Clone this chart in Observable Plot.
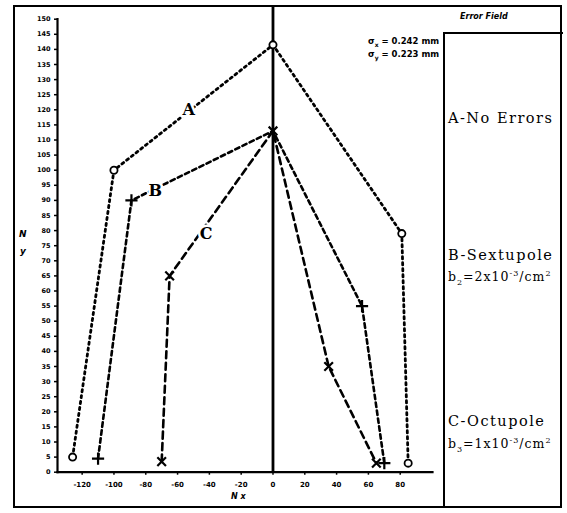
<!DOCTYPE html>
<html>
<head>
<meta charset="utf-8">
<script src="https://cdn.jsdelivr.net/npm/d3@7"></script>
<script src="https://cdn.jsdelivr.net/npm/@observablehq/plot@0.6"></script>
<style>
  html, body { margin: 0; padding: 0; background: #fff; }
  #wrap { position: relative; width: 567px; height: 513px; overflow: hidden; background: #fff; }
  #wrap svg { position: absolute; left: 0; top: 0; }
  .border { position: absolute; left: 13px; top: 5px; width: 545px; height: 499px; border: 2px solid #000; pointer-events: none; }
  .panel { position: absolute; left: 443px; top: 32px; width: 118px; height: 474px; border-left: 2.5px solid #000; border-top: 2px solid #000; }
  .ptxt { position: absolute; left: 448px; font-family: "DejaVu Serif", serif; color: #000; white-space: nowrap; }
  .big { font-size: 14.5px; letter-spacing: 1.5px; }
  .small { font-size: 12.5px; letter-spacing: 1px; }
  .ann { position: absolute; font-family: "DejaVu Sans", sans-serif; font-weight: bold; color: #000; white-space: nowrap; }
</style>
</head>
<body>
<div id="wrap">
  <div class="border"></div>
  <div class="panel"></div>
</div>
<script>
// ---- data ----
const aX = [-126, -100, 0, 81, 85];
const aY = [5, 100, 141.5, 79, 3];
const bX = [-110, -89, 0, 56, 70];
const bY = [4.5, 90, 113, 55, 3];
const cX = [-70, -65, 0, 35, 65];
const cY = [3.5, 65, 113, 35, 3];
const curveLabels = ["A", "B", "C"];
const curveLabelX = [-53, -74, -42];
const curveLabelY = [120, 93, 79];
const xTicks = [-120, -100, -80, -60, -40, -20, 0, 20, 40, 60, 80];
const yTicks = d3.range(0, 151, 5);
const legendTitle = "Error Field";
const legendA = "A-No Errors";
const legendB = "B-Sextupole";
const legendBsub = "b<sub style='font-size:8px'>2</sub>=2x10<sup style='font-size:8px'>-3</sup>/cm<sup style='font-size:8px'>2</sup>";
const legendC = "C-Octupole";
const legendCsub = "b<sub style='font-size:8px'>3</sub>=1x10<sup style='font-size:8px'>-3</sup>/cm<sup style='font-size:8px'>2</sup>";

const A = aX.map((x, i) => ({x, y: aY[i]}));
const B = bX.map((x, i) => ({x, y: bY[i]}));
const C = cX.map((x, i) => ({x, y: cY[i]}));
const Bmarks = B.filter(p => !C.some(q => q.x === p.x && q.y === p.y));
const labels = curveLabels.map((t, i) => ({t, x: curveLabelX[i], y: curveLabelY[i]}));

const chart = Plot.plot({
  width: 567,
  height: 513,
  marginLeft: 57,
  marginRight: 135,
  marginTop: 18.7,
  marginBottom: 41.3,
  x: {domain: [-135.5, 100.3]},
  y: {domain: [0, 150]},
  style: {background: "transparent", fontFamily: "DejaVu Sans, sans-serif", fontWeight: "bold", color: "#000"},
  marks: [
    Plot.axisY({ticks: yTicks, tickSize: 3, tickPadding: 4, fontSize: 6.5, label: null, strokeWidth: 1.5}),
    Plot.axisX({ticks: xTicks, tickSize: 3, tickPadding: 7, fontSize: 7, label: null, strokeWidth: 1.5,
      tickFormat: d => d < 0 ? "-" + (-d) : String(d)}),
    Plot.frame({anchor: "left", strokeWidth: 2.2}),
    Plot.frame({anchor: "bottom", strokeWidth: 2.2}),
    Plot.ruleX([0], {y1: 0, y2: 154, strokeWidth: 2.8, clip: false}),
    Plot.line(A, {x: "x", y: "y", stroke: "#000", strokeWidth: 2.8, strokeDasharray: "2.2,3.8"}),
    Plot.line(B, {x: "x", y: "y", stroke: "#000", strokeWidth: 2.6, strokeDasharray: "4.5,3.5"}),
    Plot.line(C, {x: "x", y: "y", stroke: "#000", strokeWidth: 2.6, strokeDasharray: "7,4.5"}),
    Plot.dot(A, {x: "x", y: "y", symbol: "circle", r: 3.6, stroke: "#000", strokeWidth: 1.8, fill: "#fff"}),
    Plot.dot(Bmarks, {x: "x", y: "y", symbol: "plus", r: 4, stroke: "#000", strokeWidth: 2.2}),
    Plot.dot(C, {x: "x", y: "y", symbol: "times", r: 4, stroke: "#000", strokeWidth: 2.2}),
    Plot.text(labels, {x: "x", y: "y", text: "t", fontSize: 16, fontFamily: "DejaVu Serif, serif", fontWeight: "bold", fill: "#000", stroke: "#fff", strokeWidth: 5, paintOrder: "stroke"})
  ]
});
const wrap = document.getElementById("wrap");
wrap.insertBefore(chart, wrap.firstChild);

function add(html, cls, left, top) {
  const d = document.createElement("div");
  d.className = cls;
  d.innerHTML = html;
  if (left !== null) d.style.left = left + "px";
  d.style.top = top + "px";
  wrap.appendChild(d);
  return d;
}
add(legendTitle, "ann", 460, 12).style.cssText += "font-size:8px;font-style:italic;";
add(legendA, "ptxt big", null, 110);
add(legendB, "ptxt big", null, 247);
add(legendBsub, "ptxt small", null, 269);
add(legendC, "ptxt big", null, 413);
add(legendCsub, "ptxt small", null, 436);
add("σ<sub style='font-size:6px'>x</sub> = 0.242 mm", "ann", 368, 36).style.cssText += "font-size:8.5px;";
add("σ<sub style='font-size:6px'>y</sub> = 0.223 mm", "ann", 368, 49).style.cssText += "font-size:8.5px;";
add("N", "ann", 19, 229).style.cssText += "font-size:9px;font-style:italic;";
add("y", "ann", 20, 246).style.cssText += "font-size:9px;font-style:italic;";
add("N&nbsp;x", "ann", 231, 492).style.cssText += "font-size:8px;font-style:italic;";
</script>
</body>
</html>
